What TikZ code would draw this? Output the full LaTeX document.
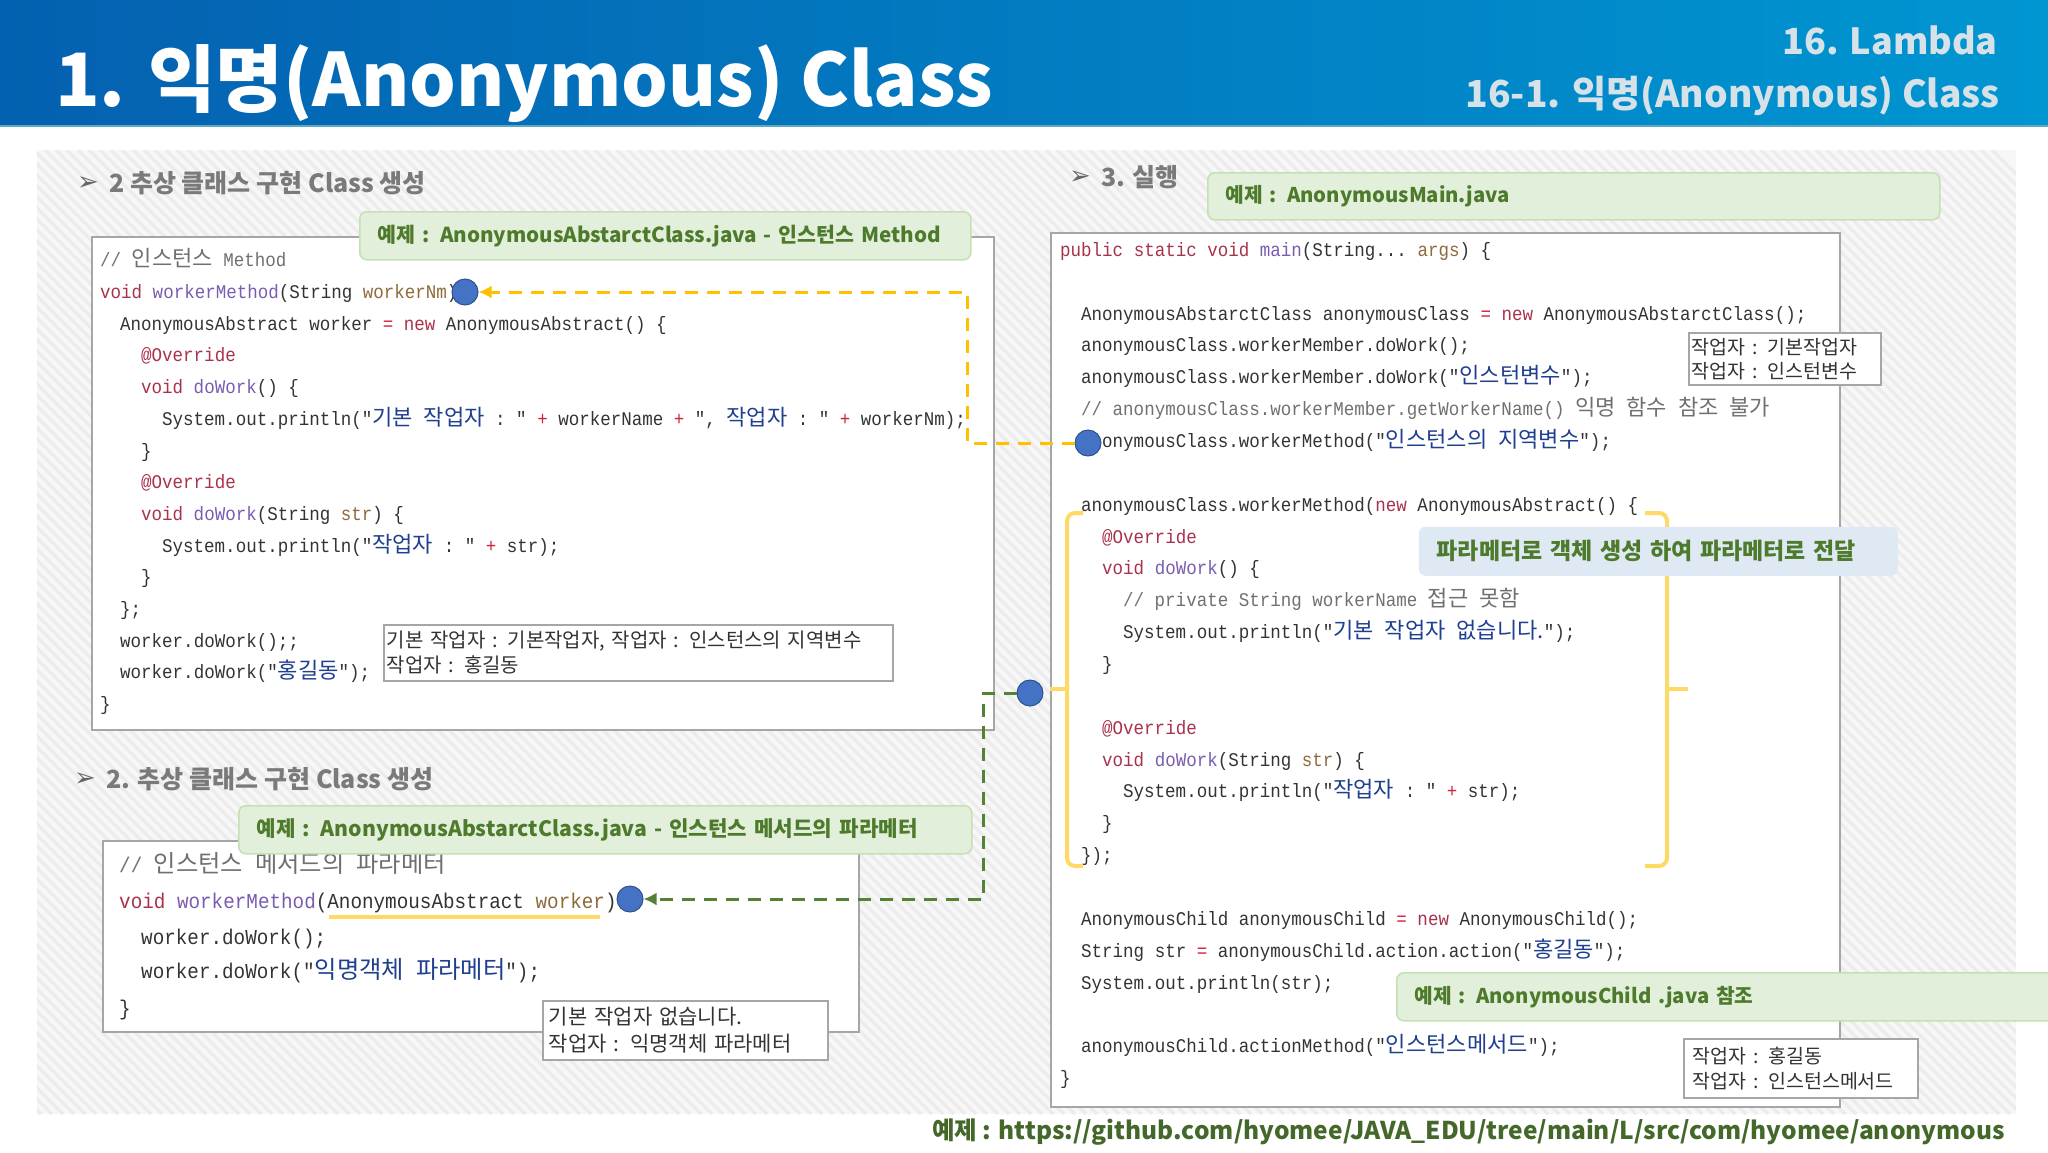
\documentclass[tikz,border=0pt]{standalone}
\usepackage{fontspec}
\usetikzlibrary{arrows.meta}
\setmainfont{Noto Sans CJK KR}
\setmonofont[FakeStretch=0.905]{Liberation Mono}
\newfontfamily\kofont[Scale=1.14,WordSpace=2.2]{Noto Sans CJK KR}
\newfontfamily\notefont[WordSpace=3.4]{Noto Sans CJK KR}
\newfontfamily\markfont{DejaVu Sans}
\definecolor{kwred}{HTML}{A8324A}
\definecolor{fnpurple}{HTML}{7A5CB0}
\definecolor{argbrown}{HTML}{8F6A3A}
\definecolor{strblue}{HTML}{1F3F8F}
\definecolor{cmgray}{HTML}{707070}
\definecolor{codeink}{HTML}{333333}
\definecolor{opred}{HTML}{D02040}
\definecolor{tagfill}{HTML}{E2EFDA}
\definecolor{tagline}{HTML}{C5E0B4}
\definecolor{tagink}{HTML}{4E7A2C}
\definecolor{dotblue}{HTML}{4472C4}
\definecolor{dotline}{HTML}{2F528F}
\definecolor{linkyellow}{HTML}{FFC000}
\definecolor{linkgreen}{HTML}{548235}
\definecolor{markyellow}{HTML}{FFD966}
\definecolor{headleft}{HTML}{0460B0}
\definecolor{headright}{HTML}{0096D2}
\definecolor{headrule}{HTML}{5FA8C0}
\definecolor{hatchbase}{HTML}{F7F7F7}
\definecolor{hatchline}{HTML}{ECECEC}
\definecolor{newfill}{HTML}{DEE9F4}
\definecolor{subtitle}{HTML}{D6E2E8}
\newcommand{\ko}[1]{{\kofont #1}}
\newcommand{\kw}[1]{\textcolor{kwred}{#1}}
\newcommand{\fn}[1]{\textcolor{fnpurple}{#1}}
\newcommand{\ar}[1]{\textcolor{argbrown}{#1}}
\newcommand{\st}[1]{\textcolor{strblue}{\ko{#1}}}
\newcommand{\op}[1]{\textcolor{opred}{#1}}
\tikzset{
  codeline/.style={anchor=base west,inner sep=0pt,yshift=1pt,text=codeink,font=\ttfamily\fontsize{19.35}{22}\selectfont},
  codebig/.style={codeline,font=\ttfamily\fontsize{21.3}{24}\selectfont},
  codebox/.style={draw=black!35,line width=1.5pt,fill=white},
  heading/.style={anchor=west,inner sep=0pt,text=black!52,font=\bfseries\fontsize{25}{28}\selectfont},
  headmark/.style={anchor=center,inner sep=0pt,text=black!60,font=\markfont\fontsize{26}{28}\selectfont},
  tagbox/.style={anchor=north west,draw=tagline,line width=1.5pt,fill=tagfill,rounded corners=7pt,inner xsep=18pt,inner ysep=0pt,align=left,text=tagink,font=\bfseries\fontsize{20.3}{24}\selectfont},
  notebox/.style={anchor=north west,draw=black!35,line width=1.5pt,fill=white,inner xsep=3pt,inner ysep=0pt,align=left,text=codeink},
  dot/.style={circle,draw=dotline,line width=1pt,fill=dotblue,minimum size=26pt,inner sep=0pt},
  linkA/.style={draw=linkyellow,line width=3pt,dash pattern=on 13pt off 9pt,-{Latex[length=13pt,width=13pt]}},
  linkB/.style={draw=linkgreen,line width=3pt,dash pattern=on 13pt off 9pt,-{Latex[length=13pt,width=13pt]}},
  bracket/.style={draw=markyellow,line width=4pt,rounded corners=8pt}
}
\begin{document}
\begin{tikzpicture}[x=1pt,y=-1pt]
\useasboundingbox (0,0) rectangle (2048,1152);
\clip (0,0) rectangle (2048,1152);
% Cabecera
\fill[white] (0,0) rectangle (2048,1152);
\shade[left color=headleft,right color=headright] (0,0) rectangle (2048,125);
\fill[headrule] (0,125) rectangle (2048,127);
\node[anchor=base west,inner sep=0pt,text=white,font=\bfseries\fontsize{73.5}{80}\selectfont] (mainTitle) at (55,106) {1. 익명(Anonymous) Class};
\node[anchor=base east,inner sep=0pt,text=subtitle,font=\bfseries\fontsize{36}{42}\selectfont] (chapterTitle) at (1998,54) {16. Lambda};
\node[anchor=base east,inner sep=0pt,text=subtitle,font=\bfseries\fontsize{37.2}{42}\selectfont] (sectionTitle) at (2000,107) {16-1. 익명(Anonymous) Class};
% Fondo rayado
\begin{scope}
\clip (37,150) rectangle (2016,1114);
\fill[hatchbase] (37,150) rectangle (2016,1114);
\foreach \i in {0,11,...,3000}
  \draw[hatchline,line width=3.5pt] (\i-1000,150) -- (\i-36,1114);
\end{scope}
% Titulos
\node[headmark] (markA) at (88,184) {➢};
\node[heading] (headA) at (109,183) {2 추상 클래스 구현 Class 생성};
\node[headmark] (markB) at (85,780) {➢};
\node[heading] (headB) at (106,779) {2. 추상 클래스 구현 Class 생성};
\node[headmark] (markC) at (1080,178) {➢};
\node[heading] (headC) at (1101,177) {3. 실행};
% Caja metodo
\node[codebox,anchor=north west,minimum width=902pt,minimum height=493pt,inner sep=0pt] (boxMethod) at (91,236) {};
\node[codeline] (mA) at (100,267) {\textcolor{cmgray}{// \ko{인스턴스} Method}};
\node[codeline] (mB) at (100,299) {\kw{void} \fn{workerMethod}(String \ar{workerNm})};
\node[codeline] (mC) at (120,331) {AnonymousAbstract worker \op{=} \kw{new} AnonymousAbstract() \{};
\node[codeline] (mD) at (141,362) {\kw{@Override}};
\node[codeline] (mE) at (141,394) {\kw{void} \fn{doWork}() \{};
\node[codeline] (mF) at (162,426) {System.out.println("\st{기본 작업자} : " \op{+} workerName \op{+} ", \st{작업자} : " \op{+} workerNm);};
\node[codeline] (mG) at (141,458) {\}};
\node[codeline] (mH) at (141,489) {\kw{@Override}};
\node[codeline] (mI) at (141,521) {\kw{void} \fn{doWork}(String \ar{str}) \{};
\node[codeline] (mJ) at (162,553) {System.out.println("\st{작업자} : " \op{+} str);};
\node[codeline] (mK) at (141,584) {\}};
\node[codeline] (mL) at (120,616) {\};};
\node[codeline] (mM) at (120,648) {worker.doWork();;};
\node[codeline] (mN) at (120,679) {worker.doWork("\st{홍길동}");};
\node[codeline] (mO) at (100,711) {\}};
\node[notebox,minimum height=56pt,text width=503pt,font=\notefont\fontsize{20}{25}\selectfont] (noteMethod) at (383,624) {기본 작업자 : 기본작업자, 작업자 : 인스턴스의 지역변수\\작업자 : 홍길동};
% Caja parametro
\node[codebox,anchor=north west,minimum width=756pt,minimum height=191pt,inner sep=0pt] (boxParam) at (102,840) {};
\node[codebig] (pA) at (119,873) {\textcolor{cmgray}{// \ko{인스턴스 메서드의 파라메터}}};
\node[codebig] (pB) at (119,909) {\kw{void} \fn{workerMethod}(AnonymousAbstract \ar{worker})};
\node[codebig] (pC) at (141,945) {worker.doWork();};
\node[codebig] (pD) at (141,979) {worker.doWork("\st{익명객체 파라메터}");};
\node[codebig] (pE) at (119,1016) {\}};
\node[notebox,minimum height=59pt,text width=273pt,inner xsep=6pt,font=\notefont\fontsize{21}{27}\selectfont] (noteParam) at (542,1000) {기본 작업자 없습니다.\\작업자 : 익명객체 파라메터};
% Caja main
\node[codebox,anchor=north west,minimum width=789pt,minimum height=874pt,inner sep=0pt] (boxMain) at (1050,232) {};
\node[codeline] (rA) at (1060,257) {\kw{public} \kw{static} \kw{void} \fn{main}(String... \ar{args}) \{};
\node[codeline] (rC) at (1081,321) {AnonymousAbstarctClass anonymousClass \op{=} \kw{new} AnonymousAbstarctClass();};
\node[codeline] (rD) at (1081,352) {anonymousClass.workerMember.doWork();};
\node[codeline] (rE) at (1081,384) {anonymousClass.workerMember.doWork("\st{인스턴변수}");};
\node[codeline] (rF) at (1081,416) {\textcolor{cmgray}{// anonymousClass.workerMember.getWorkerName() \ko{익명 함수 참조 불가}}};
\node[codeline] (rG) at (1081,448) {anonymousClass.workerMethod("\st{인스턴스의 지역변수}");};
\node[codeline] (rI) at (1081,512) {anonymousClass.workerMethod(\kw{new} AnonymousAbstract() \{};
\node[codeline] (rJ) at (1102,544) {\kw{@Override}};
\node[codeline] (rK) at (1102,575) {\kw{void} \fn{doWork}() \{};
\node[codeline] (rL) at (1123,607) {\textcolor{cmgray}{// private String workerName \ko{접근 못함}}};
\node[codeline] (rM) at (1123,639) {System.out.println("\st{기본 작업자 없습니다.}");};
\node[codeline] (rN) at (1102,671) {\}};
\node[codeline] (rP) at (1102,735) {\kw{@Override}};
\node[codeline] (rQ) at (1102,767) {\kw{void} \fn{doWork}(String \ar{str}) \{};
\node[codeline] (rR) at (1123,798) {System.out.println("\st{작업자} : " \op{+} str);};
\node[codeline] (rS) at (1102,830) {\}};
\node[codeline] (rT) at (1081,862) {\});};
\node[codeline] (rV) at (1081,926) {AnonymousChild anonymousChild \op{=} \kw{new} AnonymousChild();};
\node[codeline] (rW) at (1081,958) {String str \op{=} anonymousChild.action.action("\st{홍길동}");};
\node[codeline] (rX) at (1081,990) {System.out.println(str);};
\node[codeline] (rZ) at (1081,1053) {anonymousChild.actionMethod("\st{인스턴스메서드}");};
\node[codeline] (rEnd) at (1060,1085) {\}};
\node[notebox,minimum height=52pt,text width=186pt,font=\notefont\fontsize{19.5}{24}\selectfont] (noteMember) at (1688,332) {작업자 : 기본작업자\\작업자 : 인스턴변수};
\node[notebox,minimum height=59pt,text width=216pt,inner xsep=9pt,font=\notefont\fontsize{19.5}{25}\selectfont] (noteChild) at (1683,1038) {작업자 : 홍길동\\작업자 : 인스턴스메서드};
% Corchetes
\draw[bracket] (1083,513) -| (1067,866) -- (1083,866);
\draw[bracket,rounded corners=0pt] (1067,689) -- (1050,689);
\draw[bracket] (1645,513) -| (1667,866) -- (1645,866);
\draw[bracket,rounded corners=0pt] (1667,689) -- (1688,689);
\draw[draw=markyellow,line width=4pt] (329,917) -- (600,917);
% Etiquetas
\node[tagbox,font=\bfseries\fontsize{20.6}{24}\selectfont,minimum width=611pt,minimum height=48pt,text width=575pt] (tagMethod) at (359,211) {예제 : AnonymousAbstarctClass.java - 인스턴스 Method};
\node[tagbox,font=\bfseries\fontsize{21.2}{24}\selectfont,minimum width=733pt,minimum height=48pt,text width=697pt] (tagParam) at (238,805) {예제 : AnonymousAbstarctClass.java - 인스턴스 메서드의 파라메터};
\node[tagbox,minimum width=732pt,minimum height=47pt,text width=696pt] (tagMain) at (1207,172) {예제 : AnonymousMain.java};
\node[tagbox,minimum width=700pt,minimum height=48pt,text width=664pt] (tagChild) at (1396,972) {예제 : AnonymousChild .java 참조};
\node[tagbox,draw=none,fill=newfill,font=\bfseries\fontsize{23}{24}\selectfont,minimum width=479pt,minimum height=49pt,text width=443pt] (tagNew) at (1418,526) {파라메터로 객체 생성 하여 파라메터로 전달};
\node[anchor=base east,inner sep=0pt,text=linkgreen!80!black,font=\bfseries\fontsize{24.5}{28}\selectfont] (linkUrl) at (2005,1139) {예제 : https://github.com/hyomee/JAVA\_EDU/tree/main/L/src/com/hyomee/anonymous};
% Puntos y enlaces
\node[dot] (dotMethod) at (465,292) {};
\node[dot] (dotCall) at (1088,443) {};
\node[dot] (dotNew) at (1030,693) {};
\node[dot] (dotParam) at (630,899) {};
\coordinate (bendA) at (967,443);
\coordinate (bendB) at (983,693);
\draw[linkA] (dotCall.west) -- (bendA) |- (dotMethod.east);
\draw[linkB] (dotNew.west) -- (bendB) |- (dotParam.east);
\end{tikzpicture}
\end{document}
